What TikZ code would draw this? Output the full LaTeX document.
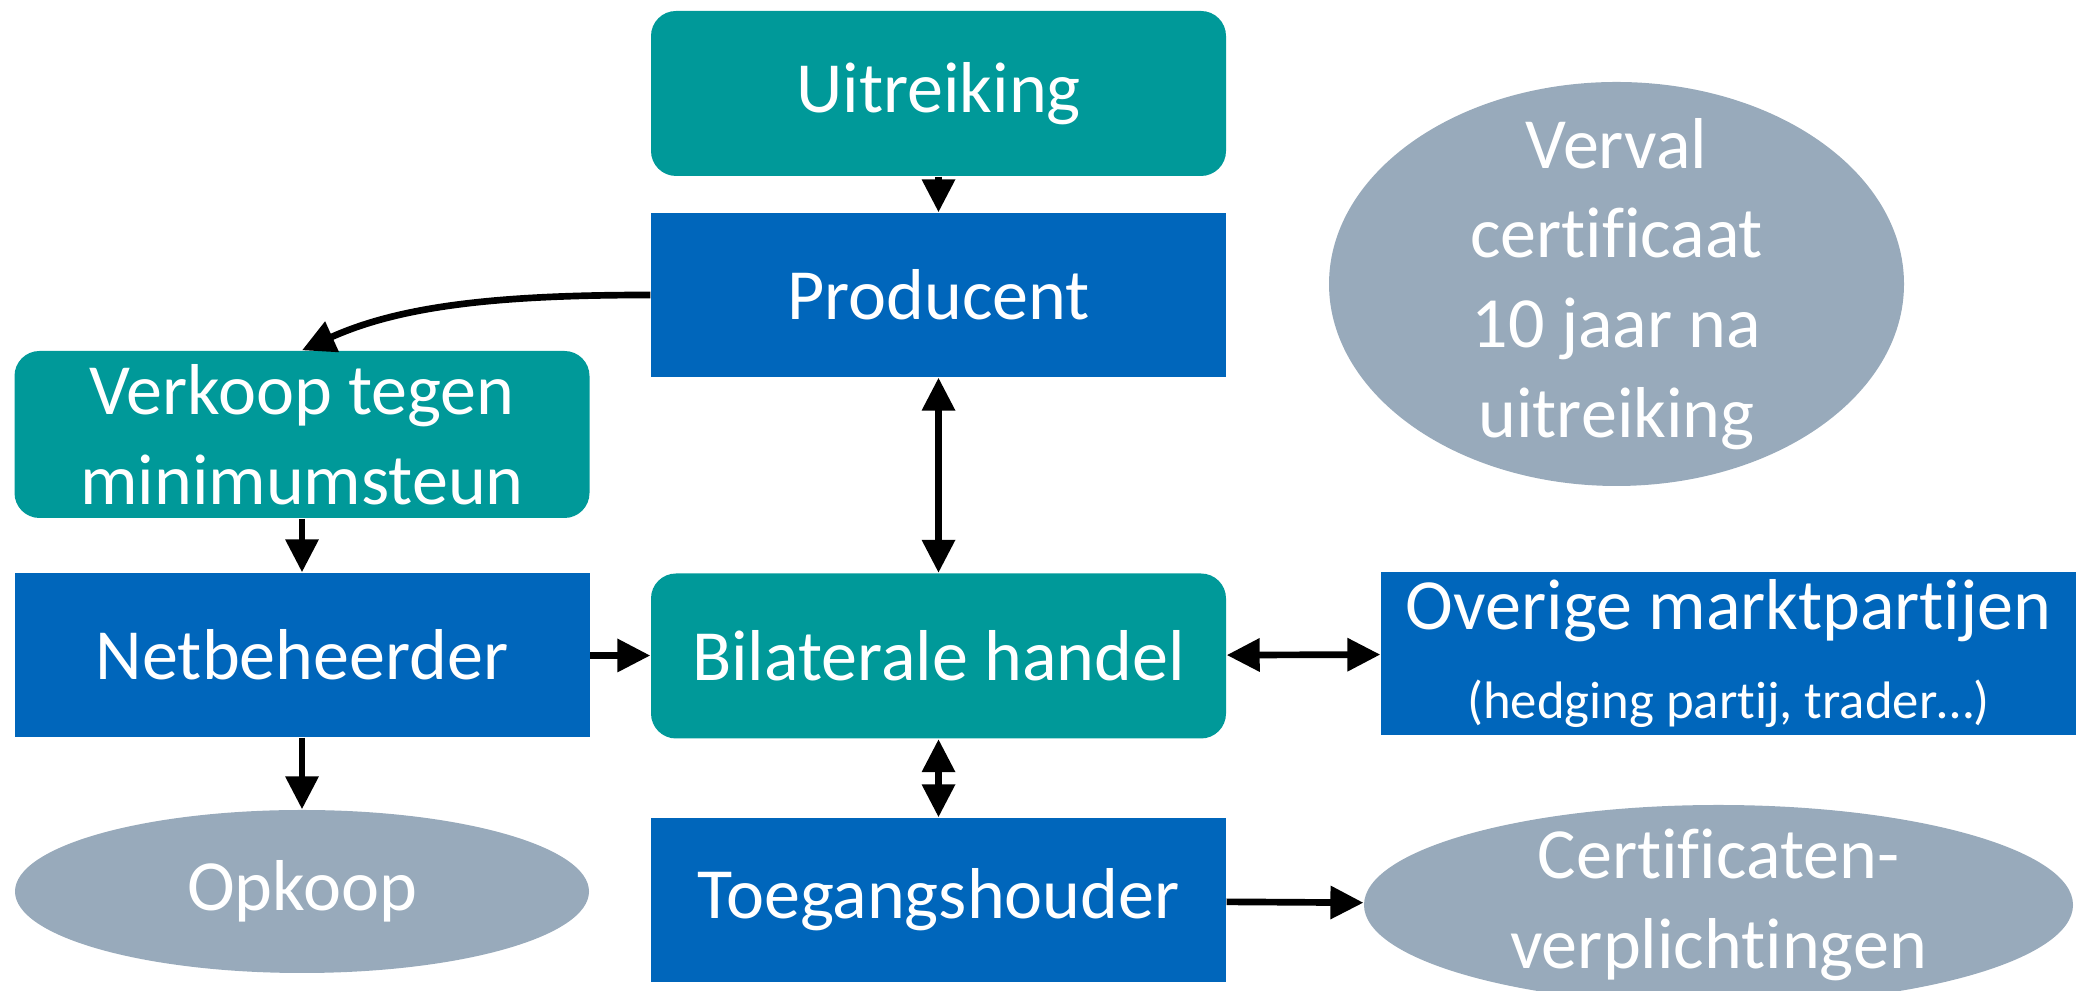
\documentclass[tikz,border=0pt]{standalone}
\usepackage{fontspec}
\setmainfont{Carlito}[Ligatures=NoCommon]
\usepackage{tikz}
\usetikzlibrary{shapes.geometric, arrows.meta, positioning}
\usepackage{xcolor}

\definecolor{tealgreen}{RGB}{0,153,153}
\definecolor{darkblue}{RGB}{0,102,187}
\definecolor{greyblue}{RGB}{152,170,187}

\begin{document}
\begin{tikzpicture}[
        font=\fontsize{20.5}{25.5}\selectfont,
        tealbox/.style={fill=tealgreen, rounded corners=0.25cm, text=white, minimum width=5.75cm, minimum height=1.65cm, inner sep=0pt, align=center},
        bluebox/.style={fill=darkblue, text=white, minimum width=5.75cm, minimum height=1.64cm, inner sep=0pt, align=center},
        greyoval/.style={ellipse, fill=greyblue, text=white, inner sep=0pt, align=center},
        pijl/.style={line width=1.9pt, -{Triangle[length=3.3mm, width=3.2mm]}},
        dubbelpijl/.style={line width=1.9pt, {Triangle[length=3.3mm, width=3.2mm]}-{Triangle[length=3.3mm, width=3.2mm]}}
    ]
        \useasboundingbox (0,0) rectangle (20.76,9.91);

        % Midden
        \node[tealbox] (uitreiking) at (9.385, 8.975) {Uitreiking};
        \node[bluebox] (producent) at (9.385, 6.96) {Producent};
        \node[tealbox] (bilateraal) at (9.385, 3.35) {Bilaterale handel};
        \node[bluebox] (toegang) at (9.385, 0.91) {Toegangshouder};

        % Links
        \node[tealbox, minimum height=1.67cm] (verkoop) at (3.02, 5.565) {Verkoop tegen\\minimumsteun};
        \node[bluebox] (netbeheer) at (3.02, 3.36) {Netbeheerder};
        \node[greyoval, minimum width=5.74cm, minimum height=1.63cm] (opkoop) at (3.02, 0.995) {Opkoop};

        % Rechts
        \node[greyoval, minimum width=5.75cm, minimum height=4.04cm,
            label={[text=white, align=center]center:Verval\\certificaat\\10 jaar na\\uitreiking}] (verval) at (16.165, 7.07) {};
        \node[bluebox, minimum width=6.95cm, minimum height=1.63cm] (overige) at (17.285, 3.375) {Overige marktpartijen\\{\fontsize{15}{18}\selectfont (hedging partij, trader…)}};
        \node[greyoval, minimum width=7.09cm, minimum height=2.0cm,
            label={[text=white, align=center]center:Certificaten-\\verplichtingen}] (certificaten) at (17.185, 0.86) {};

        % Pijlen
        \draw[pijl] (uitreiking) -- (producent);
        \draw[pijl] (producent.west) .. controls +(-1.5,0) and +(1.0,0.45) .. (verkoop.north);
        \draw[dubbelpijl] (producent) -- (bilateraal);
        \draw[pijl] (verkoop) -- (netbeheer);
        \draw[pijl] (netbeheer) -- (opkoop);
        \draw[pijl] (netbeheer) -- (bilateraal);
        \draw[dubbelpijl] (bilateraal) -- (toegang);
        \draw[dubbelpijl] (bilateraal) -- (overige);
        \draw[pijl] (toegang) -- (certificaten);
    \end{tikzpicture}
\end{document}
